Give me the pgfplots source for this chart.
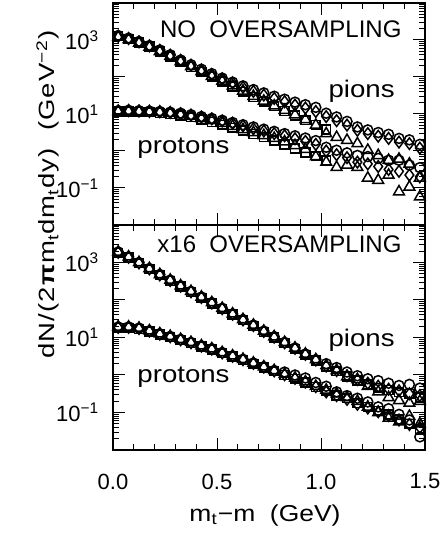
\documentclass[border=0pt]{standalone}
\usepackage{fontspec}
\setmainfont{Liberation Sans}
\newfontfamily\widefont[FakeStretch=1.25, LetterSpace=5]{Liberation Sans}
\usepackage{pgfplots}
\usepackage{pgfplotstable}
\pgfplotsset{compat=1.18}

\pgfplotstableread{
x c d s t
0.025 1318 1259 1259 1202
0.075 1122 1096 1047 1023
0.125 912 891 851 832
0.175 708 692 661 646
0.225 537 525 490 490
0.275 398 389 355 363
0.325 288 282 257 263
0.375 214 209 186 191
0.425 162 155 138 141
0.475 123 117 102 105
0.525 93.3 89.1 75.9 77.6
0.575 72.4 69.2 55.0 57.5
0.625 57.5 52.5 39.8 41.7
0.675 45.7 40.7 28.8 30.2
0.725 37.2 32.4 21.4 22.4
0.775 30.2 26.3 16.2 16.6
0.825 25.1 21.4 12.0 12.6
0.875 20.9 17.4 9.12 9.55
0.925 17.8 14.5 6.76 7.08
0.975 15.1 11.7 5.01 5.01
1.025 10.5 8.51 3.80 2.95
1.075 8.32 6.61 nan 2.34
1.125 6.31 5.01 nan 1.95
1.175 4.47 3.63 nan 1.58
1.225 3.72 2.95 nan 1.05
1.275 3.16 2.51 nan 0.759
1.325 2.82 2.19 nan 0.562
1.375 2.19 1.74 nan 0.603
1.425 2.00 1.58 nan 0.447
1.475 1.51 1.20 nan 0.186
}\toppi

\pgfplotstableread{
x c d s t
0.025 12.3 12.0 11.7 11.7
0.075 12.6 12.3 11.7 12.0
0.125 12.3 12.0 11.5 11.7
0.175 12.0 11.7 11.2 11.5
0.225 11.7 11.5 10.7 11.2
0.275 11.2 11.0 10.0 10.5
0.325 10.5 10.2 9.12 9.55
0.375 9.55 9.33 8.13 8.71
0.425 8.51 8.32 7.08 7.59
0.475 7.59 7.41 6.03 6.61
0.525 6.76 6.46 5.13 5.62
0.575 5.89 5.62 4.27 4.68
0.625 5.13 4.79 3.55 3.80
0.675 4.47 3.98 2.88 3.16
0.725 3.89 3.47 2.40 2.63
0.775 3.39 2.95 1.91 2.19
0.825 2.95 2.57 1.51 1.78
0.875 2.57 2.14 1.17 1.41
0.925 2.24 1.82 0.912 1.12
0.975 1.91 1.51 0.724 0.708
1.025 1.26 1.00 0.562 0.501
1.075 1.05 0.794 nan 0.363
1.125 0.891 0.661 nan 0.417
1.175 0.759 0.501 nan 0.363
1.225 0.708 0.447 nan 0.186
1.275 0.631 0.380 nan 0.162
1.325 0.562 0.316 nan 0.224
1.375 0.562 0.282 nan 0.0794
1.425 0.417 0.224 nan 0.107
1.475 0.355 0.200 nan 0.0575
}\toppr

\pgfplotstableread{
x c d s t
0.025 1905 1862 1820 1905
0.075 1413 1380 1349 1413
0.125 1000 977 955 1000
0.175 692 676 661 692
0.225 479 468 457 479
0.275 339 331 324 339
0.325 240 234 229 240
0.375 170 166 162 170
0.425 120 117 115 120
0.475 85.1 83.2 81.3 85.1
0.525 60.3 58.9 57.5 60.3
0.575 42.7 41.7 40.7 42.7
0.625 30.2 29.5 28.8 30.2
0.675 21.4 20.9 20.4 21.4
0.725 14.8 14.5 14.1 14.8
0.775 10.5 10.2 10.0 10.5
0.825 7.41 7.24 7.08 7.41
0.875 5.25 5.13 5.01 5.25
0.925 3.63 3.55 3.47 3.63
0.975 2.57 2.51 2.45 2.57
1.025 2.00 1.74 1.66 1.78
1.075 1.58 1.32 1.26 1.32
1.125 1.20 0.955 0.912 0.891
1.175 0.955 0.759 0.708 0.759
1.225 0.794 0.603 0.562 0.501
1.275 0.708 0.501 0.457 0.355
1.325 0.603 0.417 0.398 0.251
1.375 0.525 0.380 0.347 0.209
1.425 0.562 0.316 0.316 0.178
1.475 0.447 0.282 0.251 0.200
}\botpi

\pgfplotstableread{
x c d s t
0.025 19.1 18.6 18.2 19.1
0.075 19.1 18.6 18.2 19.1
0.125 17.8 17.4 17.0 17.8
0.175 15.1 14.8 14.5 15.1
0.225 12.6 12.3 12.0 12.6
0.275 10.7 10.5 10.2 10.7
0.325 8.91 8.71 8.51 8.91
0.375 7.41 7.24 7.08 7.41
0.425 6.03 5.89 5.75 6.03
0.475 5.01 4.90 4.79 5.01
0.525 3.98 3.89 3.80 3.98
0.575 3.24 3.16 3.09 3.24
0.625 2.63 2.57 2.51 2.63
0.675 2.09 2.04 2.00 2.09
0.725 1.66 1.62 1.58 1.66
0.775 1.32 1.29 1.26 1.32
0.825 1.20 1.02 1.00 1.05
0.875 1.00 0.813 0.794 0.832
0.925 0.832 0.646 0.631 0.661
0.975 0.631 0.490 0.479 0.501
1.025 0.501 0.355 0.380 0.398
1.075 0.355 0.282 0.282 0.316
1.125 0.282 0.224 0.240 0.251
1.175 0.240 0.166 0.178 0.200
1.225 0.191 0.132 0.141 0.141
1.275 0.141 0.105 0.112 0.100
1.325 0.126 0.0832 0.0891 0.0708
1.375 0.0891 0.0631 0.0661 0.0562
1.425 0.0631 0.0479 0.0501 0.0794
1.475 0.0224 0.0398 0.0355 0.0501
}\botpr

\tikzset{
  sbmk/.style={only marks, black, mark options={line width=0.75pt, solid}},
  sbc/.style={sbmk, mark=o, mark size=2.5pt},
  sbd/.style={sbmk, mark=diamond, mark size=2.9pt},
  sbs/.style={sbmk, mark=square, mark size=2.2pt},
  sbt/.style={sbmk, mark=triangle, mark size=3.1pt},
  sbtxt/.style={inner sep=0pt, font=\fontsize{12}{14}\selectfont},
}

\begin{document}
\fontsize{11}{13}\selectfont
\begin{tikzpicture}
\useasboundingbox (-56.5pt,-41.5pt) rectangle (165.5pt,225pt);
% bottom panel
\begin{axis}[ymode=log, scale only axis, width=156pt, height=112.5pt,
    at={(0pt,0pt)}, anchor=south west,
    xmin=0, xmax=1.5, ymin=1e-2, ymax=1e4,
    axis line style={line width=1pt},
    major tick length=6pt, minor tick length=3pt,
    tick align=inside, tick style={black, line width=0.5pt},
    xtick={0,0.5,1,1.5}, minor x tick num=4,
    xticklabels={0.0,0.5,1.0,1.5},
    ytick={1e-2,1e-1,1,10,100,1e3,1e4},
    yticklabels={,10\textsuperscript{−1},,10\textsuperscript{1},,10\textsuperscript{3},},
    yticklabel style={font=\fontsize{11}{13}\selectfont, xshift=-3pt},
    xticklabel style={font=\fontsize{11}{13}\selectfont, yshift=-8pt}]
\addplot[sbs] table[x=x,y=s] {\botpi};
\addplot[sbt] table[x=x,y=t] {\botpi};
\addplot[sbd] table[x=x,y=d] {\botpi};
\addplot[sbc] table[x=x,y=c] {\botpi};
\addplot[sbs] table[x=x,y=s] {\botpr};
\addplot[sbt] table[x=x,y=t] {\botpr};
\addplot[sbd] table[x=x,y=d] {\botpr};
\addplot[sbc] table[x=x,y=c] {\botpr};
\node[sbtxt, anchor=base east] at (rel axis cs:0.926,0.876) {x16\ \ OVERSAMPLING};
\node[sbtxt, anchor=base east, xscale=1.15] at (rel axis cs:0.904,0.458) {pions};
\node[sbtxt, anchor=base west, xscale=1.15] at (rel axis cs:0.077,0.298) {protons};
\end{axis}
% top panel
\begin{axis}[ymode=log, scale only axis, width=156pt, height=111pt,
    at={(0pt,112.5pt)}, anchor=south west,
    xmin=0, xmax=1.5, ymin=1e-2, ymax=1e4,
    axis line style={line width=1pt},
    major tick length=6pt, minor tick length=3pt,
    tick align=inside, tick style={black, line width=0.5pt},
    xtick={0,0.5,1,1.5}, minor x tick num=4,
    xticklabels={},
    ytick={1e-2,1e-1,1,10,100,1e3,1e4},
    yticklabels={,10\textsuperscript{−1},,10\textsuperscript{1},,10\textsuperscript{3},},
    yticklabel style={font=\fontsize{11}{13}\selectfont, xshift=-3pt}]
\addplot[sbs] table[x=x,y=s] {\toppi};
\addplot[sbt] table[x=x,y=t] {\toppi};
\addplot[sbd] table[x=x,y=d] {\toppi};
\addplot[sbc] table[x=x,y=c] {\toppi};
\addplot[sbs] table[x=x,y=s] {\toppr};
\addplot[sbt] table[x=x,y=t] {\toppr};
\addplot[sbd] table[x=x,y=d] {\toppr};
\addplot[sbc] table[x=x,y=c] {\toppr};
\node[sbtxt, anchor=base east] at (rel axis cs:0.926,0.843) {NO\ \ OVERSAMPLING};
\node[sbtxt, anchor=base east, xscale=1.15] at (rel axis cs:0.904,0.574) {pions};
\node[sbtxt, anchor=base west, xscale=1.15] at (rel axis cs:0.077,0.323) {protons};
\end{axis}
\node[rotate=90, anchor=base, inner sep=0pt, font=\widefont\fontsize{11}{14}\selectfont] at (-29pt,127.75pt) {dN/(2\textbf{π}m\textsubscript{t}dm\textsubscript{t}dy)\ \ (GeV\textsuperscript{−2})};
\node[anchor=base, inner sep=0pt, xscale=1.15, font=\fontsize{11.5}{13}\selectfont] at (76pt,-35.5pt) {m\textsubscript{t}−m\ \ (GeV)};
\end{tikzpicture}
\end{document}
